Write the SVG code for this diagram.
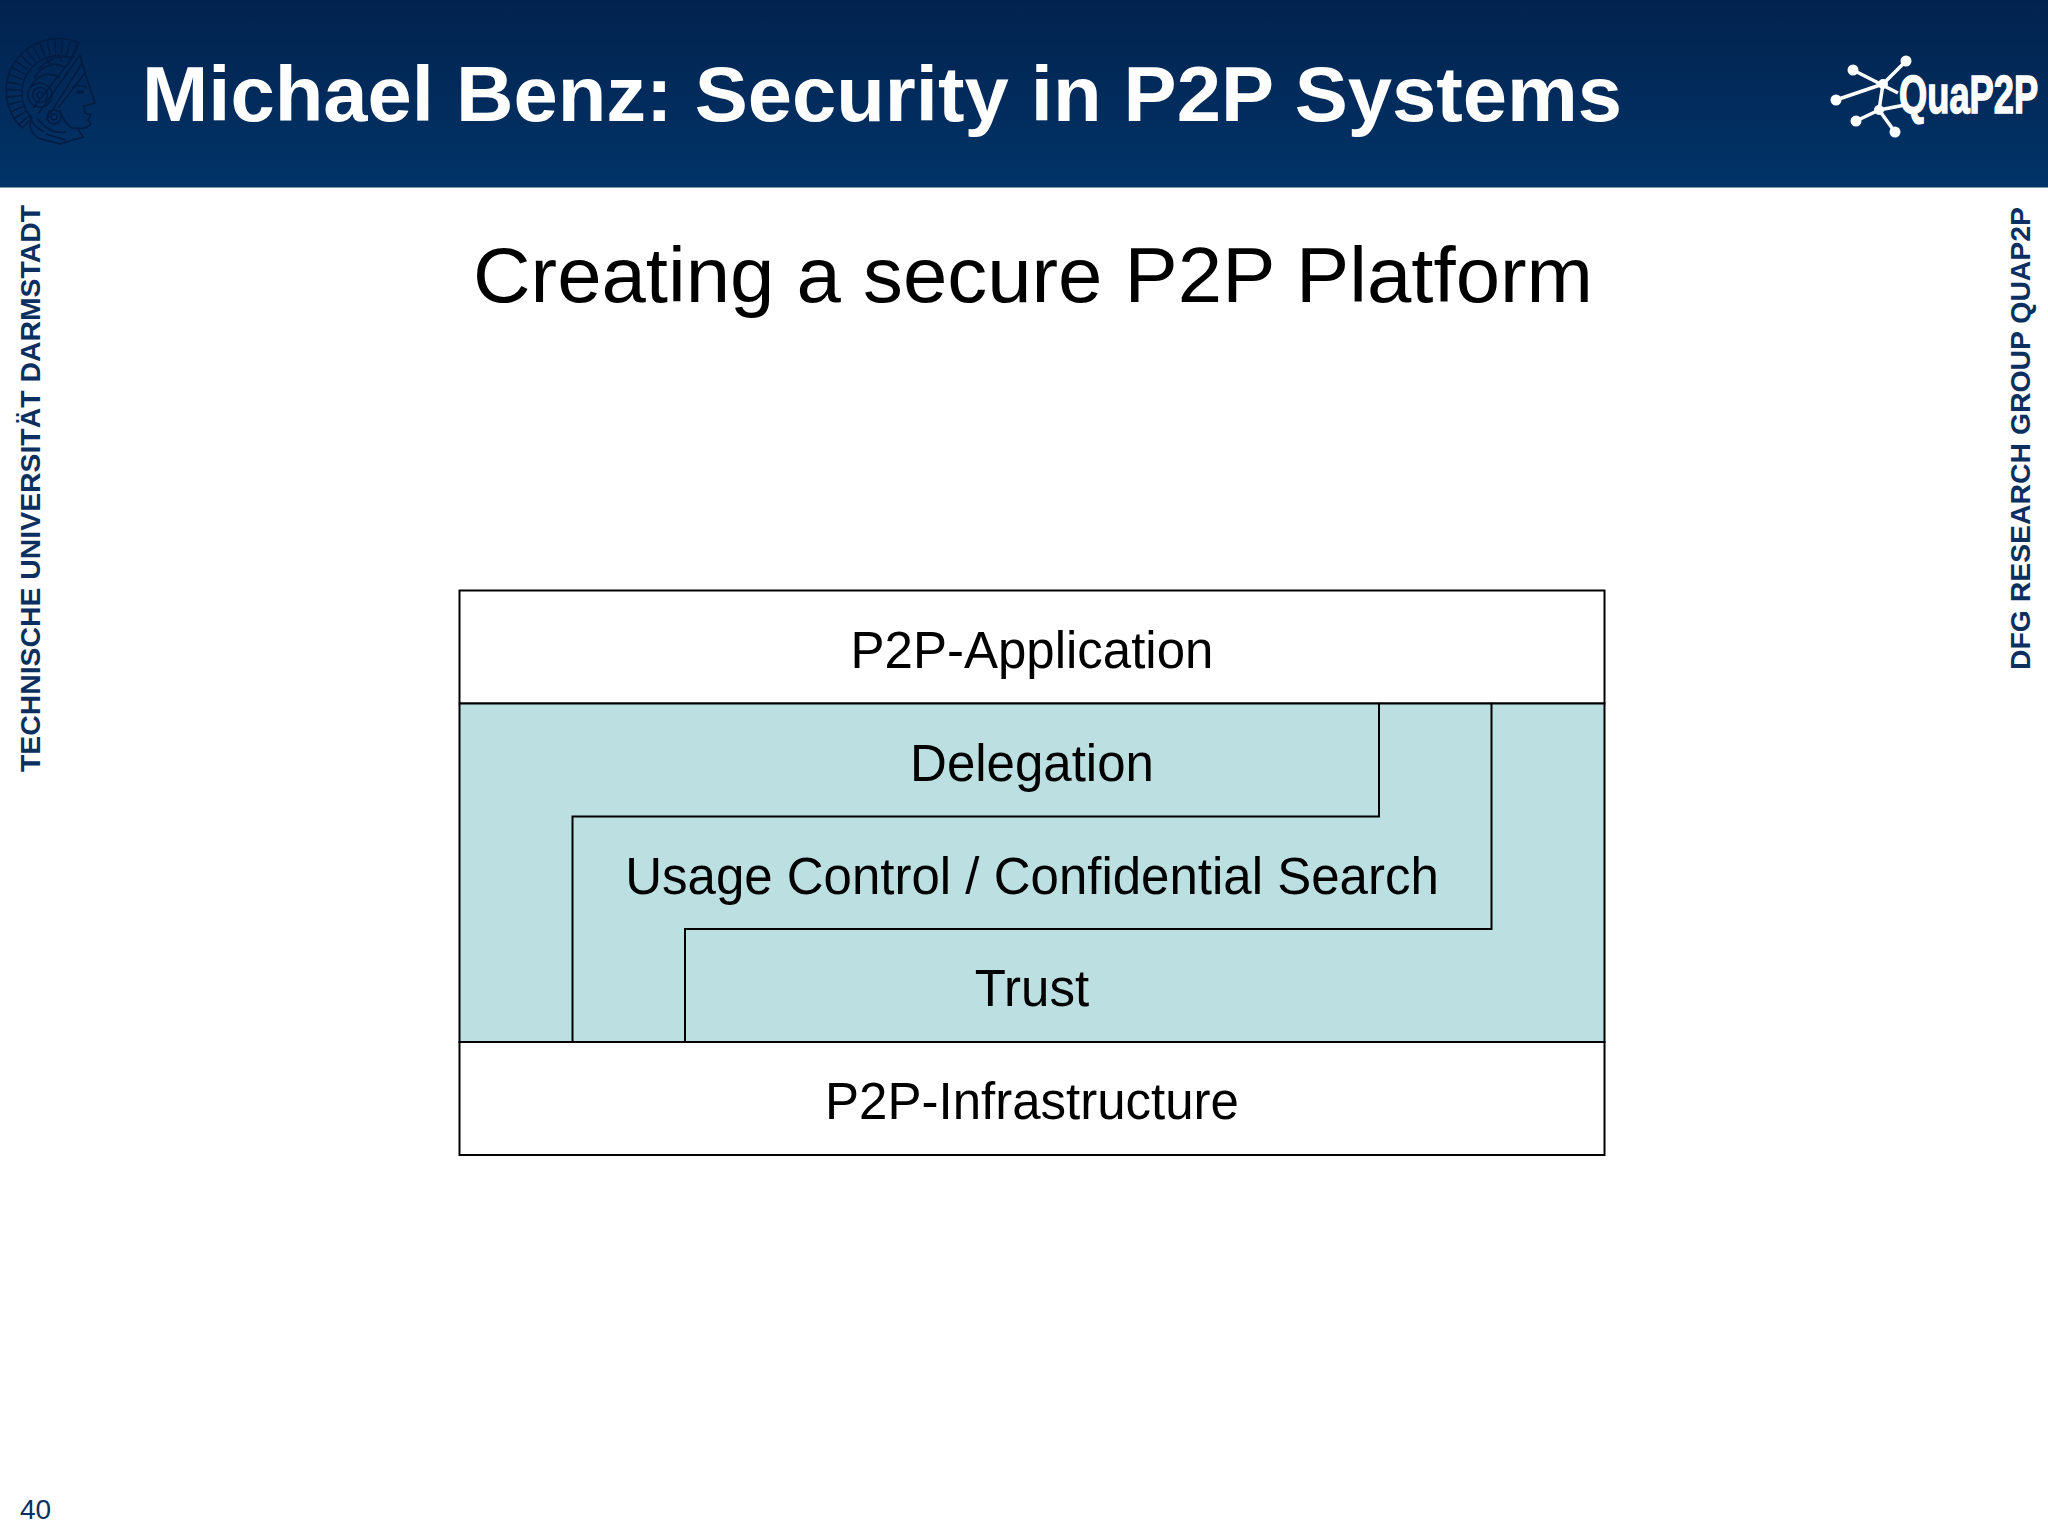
<svg xmlns="http://www.w3.org/2000/svg" width="2048" height="1536" viewBox="0 0 2048 1536">
<style>
text{font-family:"Liberation Sans",Arial,sans-serif}
.l{font-size:51px;fill:#000;text-anchor:middle}
.s{font-size:28px;font-weight:bold;fill:#0b2f5f}
.b{fill:none;stroke:#000;stroke-width:2}
.h{fill:none;stroke:#031c42;stroke-width:1.500}
.n{fill:#fff}.e{stroke:#fff;stroke-width:3.500;fill:none}
</style>
<defs><linearGradient id="g" x1="0" y1="0" x2="0" y2="1"><stop offset="0" stop-color="#02224e"/><stop offset="1" stop-color="#013468"/></linearGradient></defs>
<rect width="2048" height="1536" fill="#fff"/>
<rect id="header" width="2048" height="187.500" fill="url(#g)"/>
<g id="emblem">
<path class="h" d="M79 43A52 52 0 0 0 22 128L32 118A37 37 0 0 1 72 58L79 43"/>
<path class="h" stroke-dasharray="1.500 5" style="stroke-width:14" d="M75 51A44 44 0 0 0 27 123"/>
<path class="h" d="M80 55C83 68 90 88 95 103L84 106L85 113L91 115L88 120L91 124C88 128 80 129 72 128C66 124 62 118 60 110M77 128L83 137L60 144L38 138C30 132 28 124 32 118"/>
<path class="h" d="M80 55L38 114M83 62L46 120M74 56L33 108M86 72L58 108"/>
<path class="h" d="M72 58C60 54 46 60 38 70M66 68C54 60 42 66 34 78M60 78C48 70 36 76 30 88M52 66L46 58M62 62L58 54"/>
<path class="h" d="M37 118C46 130 56 134 66 132M44 132C36 128 32 124 30 116M66 140L46 134"/>
<circle class="h" cx="40" cy="95" r="3"/><circle class="h" cx="40" cy="95" r="7.500"/><circle class="h" cx="40" cy="95" r="12"/><circle class="h" cx="54" cy="117" r="3"/><circle class="h" cx="54" cy="117" r="7"/>
<ellipse cx="80" cy="92" rx="4" ry="2" fill="#031c42"/>
<path class="h" d="M72 88C76 85 82 85 87 88"/>
</g>
<text x="142" y="121" font-size="78" font-weight="bold" fill="#fff" textLength="1480" lengthAdjust="spacingAndGlyphs">Michael Benz: Security in P2P Systems</text>
<g id="quap2p-logo">
<path class="e" d="M1853 70L1898 93M1906 61L1883 84M1836 100L1883 84M1883 84L1879 110M1856 121L1879 110M1895 132L1879 110M1879 110L1905 105"/>
<circle class="n" cx="1853" cy="70" r="5.500"/><circle class="n" cx="1906" cy="61" r="5.500"/><circle class="n" cx="1836" cy="100" r="5.500"/><circle class="n" cx="1856" cy="121" r="5.500"/><circle class="n" cx="1895" cy="132" r="5.500"/><circle class="n" cx="1883" cy="84" r="5"/><circle class="n" cx="1879" cy="110" r="5"/>
<text transform="translate(1899 113) scale(0.685 1)" font-size="53" font-weight="bold" fill="#fff" stroke="#fff" stroke-width="1.500">QuaP2P</text>
</g>
<text id="title" x="1033" y="302" font-size="78" fill="#000" text-anchor="middle" textLength="1120" lengthAdjust="spacingAndGlyphs">Creating a secure P2P Platform</text>
<text class="s" transform="translate(40 772) rotate(-90)" textLength="567" lengthAdjust="spacingAndGlyphs">TECHNISCHE UNIVERSITÄT DARMSTADT</text>
<text class="s" transform="translate(2030 670) rotate(-90)" textLength="463" lengthAdjust="spacingAndGlyphs">DFG RESEARCH GROUP QUAP2P</text>
<text x="20" y="1519" font-size="28" fill="#0b2f5f">40</text>
<g id="p2p-application"><rect class="b" x="459.500" y="590.500" width="1145" height="113" fill="#fff"/><text class="l" x="1032" y="668">P2P-Application</text></g>
<g id="security-layers">
<rect x="459.500" y="703.500" width="1145" height="338" fill="#bcdfe2"/>
<g id="delegation"><path class="b" d="M459.500 703.500H1379V816.500H572.500V1042"/><text class="l" x="1032" y="781">Delegation</text></g>
<g id="usage-control"><path class="b" d="M1379 703.500H1491.500V929H685V1042"/><text class="l" x="1032" y="894">Usage Control / Confidential Search</text></g>
<g id="trust"><path class="b" d="M1491.500 703.500H1604.500V1042H459.500V703.500"/><text class="l" x="1032" y="1006">Trust</text></g>
</g>
<g id="p2p-infrastructure"><rect class="b" x="459.500" y="1042" width="1145" height="113" fill="#fff"/><text class="l" x="1032" y="1119">P2P-Infrastructure</text></g>
</svg>
